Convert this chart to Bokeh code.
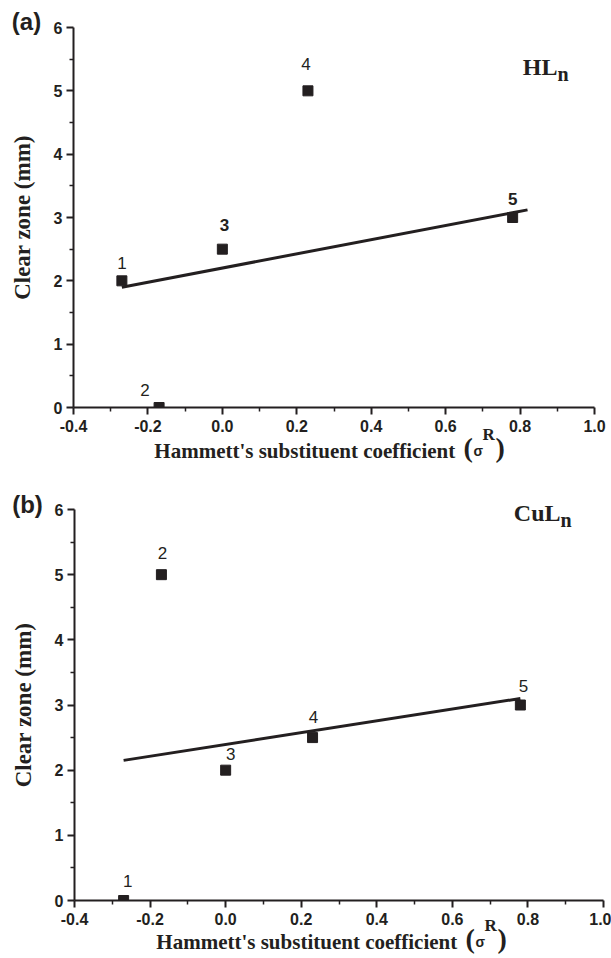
from bokeh.plotting import figure
from bokeh.models import ColumnDataSource, Range1d, FixedTicker, Label
from bokeh.layouts import column
from bokeh.embed import file_html
from bokeh.resources import INLINE

# ---------------- data ----------------
sigma = [-0.27, -0.17, 0.0, 0.23, 0.78]          # Hammett's substituent coefficient
ids = ["1", "2", "3", "4", "5"]
hl_zone = [2.0, 0.0, 2.5, 5.0, 3.0]              # clear zone (mm), HLn
cu_zone = [0.0, 5.0, 2.0, 2.5, 3.0]              # clear zone (mm), CuLn
hl_fit_x = [-0.27, 0.82]
hl_fit_y = [1.90, 3.12]
cu_fit_x = [-0.27, 0.78]
cu_fit_y = [2.15, 3.10]

x_ticks = [-0.4, -0.2, 0.0, 0.2, 0.4, 0.6, 0.8, 1.0]
x_tick_labels = ["-0.4", "-0.2", "0.0", "0.2", "0.4", "0.6", "0.8", "1.0"]
x_minor = [-0.3, -0.1, 0.1, 0.3, 0.5, 0.7, 0.9]
y_ticks = [0, 1, 2, 3, 4, 5, 6]
y_tick_labels = ["0", "1", "2", "3", "4", "5", "6"]
y_minor = [0.5, 1.5, 2.5, 3.5, 4.5, 5.5]
X_LO, X_HI, Y_LO, Y_HI = -0.4, 1.0, 0.0, 6.0

# label styling (screen offsets, px)
hl_dx = [0, -14, 2, -2, 0]
hl_dy = [-18, -18, -24, -27, -19]
hl_style = ["normal", "normal", "bold", "normal", "bold"]
cu_dx = [4, 1, 5, 1, 3]
cu_dy = [-20, -22, -16, -21, -19]
cu_style = ["normal"] * 5

INK = "#231f20"
W = 611


def make_panel(zone, fit_x, fit_y, dx, dy, styles, tag, name, H, box, title_base):
    # box: axes box in canvas pixels (left, right, top, bottom)
    L, R, T, B = box
    kx = (R - L) / (X_HI - X_LO)
    ky = (B - T) / (Y_HI - Y_LO)
    xr = Range1d(X_LO - L / kx, X_HI + (W - R) / kx)
    yr = Range1d(Y_LO - (H - B) / ky, Y_HI + T / ky)
    p = figure(width=W, height=H, output_backend="svg", toolbar_location=None,
               x_range=xr, y_range=yr, min_border=0,
               min_border_left=0, min_border_right=0,
               min_border_top=0, min_border_bottom=0)
    p.outline_line_color = None
    p.grid.visible = False
    p.background_fill_color = "white"
    p.border_fill_color = "white"

    for ax in (p.xaxis[0], p.yaxis[0]):
        ax.axis_line_color = INK
        ax.axis_line_width = 2
        ax.major_tick_line_color = INK
        ax.major_tick_line_width = 2
        ax.minor_tick_line_color = INK
        ax.minor_tick_line_width = 1.5
        ax.major_tick_in = 0
        ax.major_tick_out = 7
        ax.minor_tick_in = 0
        ax.minor_tick_out = 4
        ax.major_label_text_font = "Liberation Sans"
        ax.major_label_text_font_style = "bold"
        ax.major_label_text_font_size = "16px"
        ax.major_label_text_color = INK

    p.xaxis.fixed_location = Y_LO
    p.xaxis.bounds = (X_LO, X_HI)
    p.xaxis.ticker = FixedTicker(ticks=x_ticks, minor_ticks=x_minor)
    p.xaxis.major_label_overrides = dict(zip(x_ticks, x_tick_labels))
    p.xaxis.major_label_standoff = 5
    p.yaxis.fixed_location = X_LO
    p.yaxis.bounds = (Y_LO, Y_HI)
    p.yaxis.ticker = FixedTicker(ticks=y_ticks, minor_ticks=y_minor)
    p.yaxis.major_label_overrides = dict(zip(y_ticks, y_tick_labels))
    p.yaxis.major_label_standoff = 4
    p.yaxis.axis_label = "Clear zone (mm)"
    p.yaxis.axis_label_text_font = "Liberation Serif"
    p.yaxis.axis_label_text_font_style = "bold"
    p.yaxis.axis_label_text_font_size = "23px"
    p.yaxis.axis_label_text_color = INK
    p.yaxis.axis_label_standoff = 16

    p.line(fit_x, fit_y, line_width=3, line_color=INK)
    src = ColumnDataSource(dict(x=sigma, y=zone, t=ids, dx=dx, dy=dy, fs=styles))
    p.scatter("x", "y", source=src, marker="square", size=10, fill_color=INK, line_color=INK)
    # plot-area edge: markers sitting on the x axis are cut at the axis, as in the original
    p.quad(left=[X_LO - 1], right=[X_HI + 1], bottom=[Y_LO - 5], top=[Y_LO],
           fill_color="white", line_color=None)
    p.text("x", "y", text="t", source=src, x_offset="dx", y_offset="dy",
           text_font_style="fs", text_align="center", text_baseline="middle",
           text_font_size="17px", text_color=INK, text_font={"value": "Liberation Sans"})

    def lab(x, y, text, size, font="Liberation Serif", align="left", base="alphabetic"):
        p.add_layout(Label(x=x, y=H - y, x_units="screen", y_units="screen", text=text,
                           text_align=align, text_baseline=base, text_font=font,
                           text_font_style="bold", text_font_size=size, text_color=INK))

    # panel tag
    lab(tag[1], tag[2], tag[0], "24px", font="Liberation Sans", align="center", base="middle")
    # compound name with subscript n
    jx, jy, main = name
    lab(jx, jy, main, "24px", align="right")
    lab(jx, jy + 7, "n", "20px", align="left")
    # x-axis title with sigma^R
    tx, ty = title_base
    lab(tx, ty, "Hammett's  substituent coefficient", "21px", align="right")
    lab(tx + 3, ty - 3, "(", "28px")
    lab(tx + 13, ty, "σ", "14px", font="Liberation Sans")
    lab(tx + 22, ty - 16, "R", "17px")
    lab(tx + 35, ty - 3, ")", "28px")
    return p


pa = make_panel(hl_zone, hl_fit_x, hl_fit_y, hl_dx, hl_dy, hl_style,
                ("(a)", 26, 21), (557, 66, "HL"), 480, (73, 594, 27, 407), (460, 450))
pb = make_panel(cu_zone, cu_fit_x, cu_fit_y, cu_dx, cu_dy, cu_style,
                ("(b)", 27, 24), (560, 32, "CuL"), 478, (74, 603, 29, 420), (462, 461))

layout = column(pa, pb, spacing=0)
open("out.html", "w").write(file_html(layout, INLINE))
